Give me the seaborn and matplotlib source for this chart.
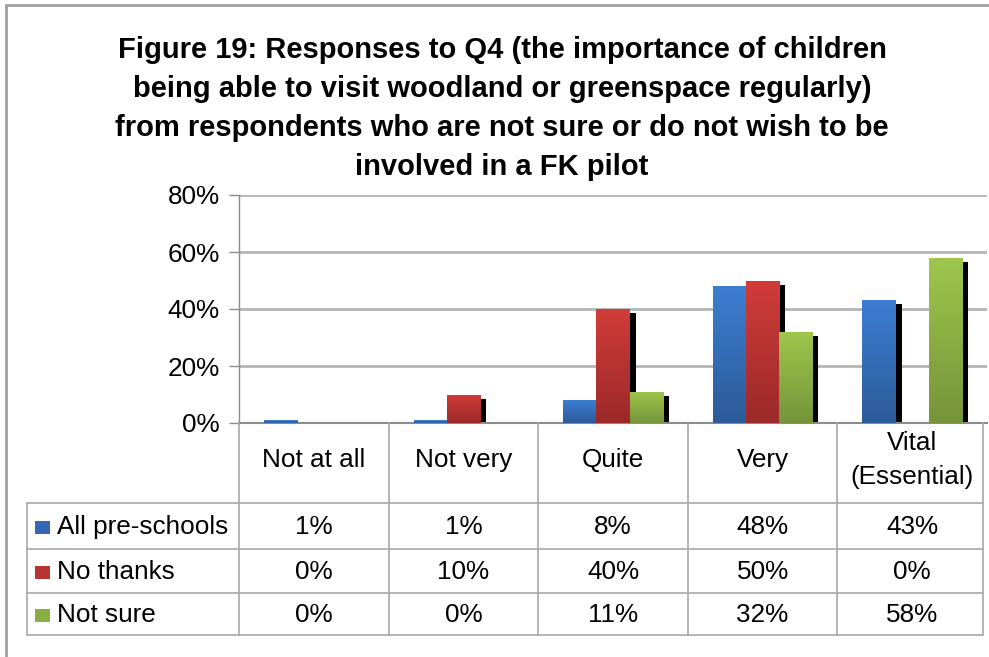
import numpy as np
import pandas as pd
import matplotlib
matplotlib.use("Agg")
import matplotlib.pyplot as plt
import matplotlib.patheffects as pe
from matplotlib.colors import LinearSegmentedColormap
from matplotlib.lines import Line2D
from matplotlib.patches import Rectangle
from matplotlib.ticker import PercentFormatter
import matplotlib.transforms as mtransforms
import seaborn as sns

# ---- data ----
categories = ["Not at all", "Not very", "Quite", "Very", "Vital\n(Essential)"]
series = ["All pre-schools", "No thanks", "Not sure"]
all_preschools = [1, 1, 8, 48, 43]
no_thanks = [0, 10, 40, 50, 0]
not_sure = [0, 0, 11, 32, 58]
y_ticks = [0, 20, 40, 60, 80]
title = ("Figure 19: Responses to Q4 (the importance of children\n"
         "being able to visit woodland or greenspace regularly)\n"
         "from respondents who are not sure or do not wish to be\n"
         "involved in a FK pilot")

values = [all_preschools, no_thanks, not_sure]
df = pd.DataFrame({
    "category": categories * len(series),
    "series": [s for s in series for _ in categories],
    "value": [v for vals in values for v in vals],
})

# bar colours: (top, bottom) of the vertical gradient, and a flat swatch colour
grad_colors = [("#3D7ED2", "#2C5B98"), ("#D13C39", "#9B2A29"), ("#9EC74B", "#75943A")]
swatch_colors = ["#3468B4", "#B83432", "#8AAE43"]

W, H = 989, 657
FS = 18.8
sns.set_theme(style="white")
plt.rcParams["font.family"] = ["Liberation Sans", "DejaVu Sans"]
plt.rcParams["text.color"] = "black"
plt.rcParams["ytick.color"] = "black"

fig = plt.figure(figsize=(W / 100, H / 100), dpi=100)
fig.patch.set_facecolor("white")


def fx(px):
    return px / W


def fy(py):
    return 1 - py / H


ax_left, ax_right, ax_top, ax_bottom = 239, 987, 195, 423
ax = fig.add_axes([fx(ax_left), fy(ax_bottom), fx(ax_right - ax_left), (ax_bottom - ax_top) / H])

sns.barplot(data=df, x="category", y="value", hue="series", order=categories,
            hue_order=series, palette=swatch_colors, width=0.667, errorbar=None,
            legend=False, ax=ax, saturation=1)

ax.set_xlim(-0.5, len(categories) - 0.5)
ax.set_ylim(0, 80)
ax.set_yticks(y_ticks)
ax.yaxis.set_major_formatter(PercentFormatter(decimals=0))
ax.set_xlabel("")
ax.set_ylabel("")
ax.set_xticks([])
ax.tick_params(axis="y", which="major", left=True, length=7, width=1, color="#8C8C8C",
               labelsize=FS, pad=7, labelcolor="black")
ax.grid(axis="y", color="#B5B5B5", linewidth=2)
ax.set_axisbelow(True)
for side in ["top", "right"]:
    ax.spines[side].set_visible(False)
ax.spines["left"].set_color("#8C8C8C")
ax.spines["bottom"].set_color("#8C8C8C")
ax.spines["left"].set_linewidth(1)
ax.spines["bottom"].set_linewidth(1.5)

# drop shadow and gradient fill on every bar
shadow = [pe.SimplePatchShadow(offset=(4.3, -2.9), shadow_rgbFace="black", alpha=1.0), pe.Normal()]
gradient = np.linspace(0, 1, 256).reshape(-1, 1)
for cont, (top_c, bot_c) in zip(ax.containers, grad_colors):
    cmap = LinearSegmentedColormap.from_list("bar", [bot_c, top_c])
    for bar in cont:
        h = bar.get_height()
        if h <= 0:
            continue
        bar.set_path_effects(shadow)
        bar.set_edgecolor("none")
        x0, w = bar.get_x(), bar.get_width()
        im = ax.imshow(gradient, cmap=cmap, origin="lower", aspect="auto",
                       extent=(x0, x0 + w, 0, h), zorder=3, interpolation="bilinear")
        im.set_clip_path(bar)
ax.set_xlim(-0.5, len(categories) - 0.5)
ax.set_ylim(0, 80)

# ---- data table beneath the axes ----
line_kw = dict(color="#A8A8A8", linewidth=1.2)
blend = mtransforms.blended_transform_factory(ax.transData, fig.transFigure)
header_bottom, row_lines, table_bottom = 503, [549, 593], 635
table_left, table_right = 27, 983
bounds = np.arange(len(categories) + 1) - 0.5

# vertical lines of the value columns
for b in bounds[1:-1]:
    fig.add_artist(Line2D([b, b], [fy(ax_bottom), fy(table_bottom)], transform=blend, **line_kw))
fig.add_artist(Line2D([fx(ax_left)] * 2, [fy(ax_bottom), fy(table_bottom)], transform=fig.transFigure, **line_kw))
fig.add_artist(Line2D([fx(table_right)] * 2, [fy(ax_bottom), fy(table_bottom)], transform=fig.transFigure, **line_kw))
fig.add_artist(Line2D([fx(table_left)] * 2, [fy(header_bottom), fy(table_bottom)], transform=fig.transFigure, **line_kw))
# horizontal lines
for yl in [header_bottom] + row_lines + [table_bottom]:
    fig.add_artist(Line2D([fx(table_left), fx(table_right)], [fy(yl)] * 2, transform=fig.transFigure, **line_kw))

# header labels
for i, cat in enumerate(categories):
    fig.text(i, fy(460), cat, transform=blend, ha="center", va="center",
             fontsize=FS, linespacing=1.55)

# rows
row_tops = [header_bottom] + row_lines
row_bots = row_lines + [table_bottom]
for r, (name, vals, col) in enumerate(zip(series, values, swatch_colors)):
    yc = (row_tops[r] + row_bots[r]) / 2 + 1
    fig.add_artist(Rectangle((fx(35), fy(yc + 6.5)), fx(15), 13 / H,
                             transform=fig.transFigure, facecolor=col, edgecolor="none"))
    fig.text(fx(57), fy(yc), name, ha="left", va="center", fontsize=FS)
    for i, v in enumerate(vals):
        fig.text(i, fy(yc), f"{v}%", transform=blend, ha="center", va="center", fontsize=FS)

# title
fig.text(fx(502), fy(36), title, ha="center", va="top", fontsize=21,
         fontweight="bold", linespacing=1.5)

# outer frame
fig.add_artist(Line2D([fx(6), fx(6)], [fy(5), 0], transform=fig.transFigure, color="#A0A0A0", linewidth=2))
fig.add_artist(Line2D([fx(6), 1], [fy(5), fy(5)], transform=fig.transFigure, color="#A0A0A0", linewidth=2))

fig.savefig("out.png", dpi=100)
